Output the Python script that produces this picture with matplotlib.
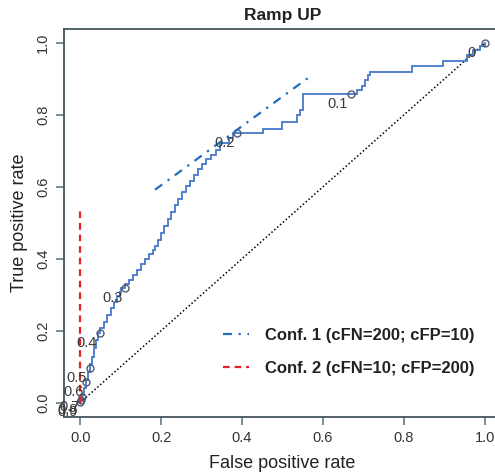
import matplotlib
matplotlib.use("Agg")
import matplotlib.pyplot as plt

plt.rcParams['font.family'] = ['Liberation Sans', 'DejaVu Sans']

# ROC curve vertices (false positive rate, true positive rate)
fpr = [0, 0, 0.005, 0.005, 0.010, 0.010, 0.015, 0.015, 0.020, 0.020, 0.024, 0.024,
       0.029, 0.029, 0.034, 0.034, 0.039, 0.039, 0.044, 0.044, 0.049,
       0.049, 0.059, 0.059, 0.066, 0.066, 0.076, 0.076, 0.083, 0.083, 0.090, 0.090,
       0.098, 0.098, 0.102, 0.102, 0.111,
       0.111, 0.121, 0.121, 0.130, 0.130, 0.140, 0.140, 0.151, 0.151, 0.161, 0.161,
       0.170, 0.170, 0.180, 0.180, 0.185, 0.185, 0.192, 0.192, 0.200, 0.200, 0.208,
       0.208, 0.218, 0.218, 0.225, 0.225, 0.235, 0.235, 0.242, 0.242, 0.252, 0.252,
       0.262, 0.262, 0.271, 0.271, 0.281, 0.281, 0.292, 0.292, 0.302, 0.302, 0.311,
       0.311, 0.324, 0.324, 0.336, 0.336, 0.345, 0.345, 0.367, 0.367, 0.378, 0.378,
       0.388, 0.451, 0.451, 0.499, 0.499, 0.536, 0.536, 0.544, 0.544, 0.551, 0.551,
       0.669, 0.684, 0.684, 0.696, 0.696, 0.704, 0.704, 0.711, 0.711, 0.716, 0.716,
       0.820, 0.820, 0.896, 0.896, 0.956, 0.956, 0.972, 0.972, 0.988, 0.988, 1.0, 1.0]
tpr = [0, 0.008, 0.008, 0.022, 0.022, 0.042, 0.042, 0.064, 0.064, 0.086, 0.086, 0.106,
       0.106, 0.128, 0.128, 0.153, 0.153, 0.175, 0.175, 0.194, 0.194,
       0.208, 0.208, 0.225, 0.225, 0.244, 0.244, 0.264, 0.264, 0.281, 0.281, 0.297,
       0.297, 0.308, 0.308, 0.319, 0.319,
       0.331, 0.331, 0.342, 0.342, 0.356, 0.356, 0.369, 0.369, 0.386, 0.386, 0.400,
       0.400, 0.414, 0.414, 0.425, 0.425, 0.436, 0.436, 0.453, 0.453, 0.472, 0.472,
       0.492, 0.492, 0.511, 0.511, 0.531, 0.531, 0.550, 0.550, 0.567, 0.567, 0.586,
       0.586, 0.603, 0.603, 0.617, 0.617, 0.633, 0.633, 0.650, 0.650, 0.664, 0.664,
       0.678, 0.678, 0.689, 0.689, 0.703, 0.703, 0.722, 0.722, 0.736, 0.736, 0.750,
       0.750, 0.750, 0.761, 0.761, 0.781, 0.781, 0.800, 0.800, 0.814, 0.814, 0.858,
       0.858, 0.858, 0.869, 0.869, 0.881, 0.881, 0.897, 0.897, 0.911, 0.911, 0.919,
       0.919, 0.936, 0.936, 0.950, 0.950, 0.967, 0.967, 0.981, 0.981, 0.992, 0.992, 1.0]

# Printed cutoffs
cutoff_labels = ["0.9", "0.8", "0.7", "0.6", "0.5", "0.4", "0.3", "0.2", "0.1", "0"]
cutoff_fpr = [0.0, 0.002, 0.005, 0.015, 0.024, 0.049, 0.111, 0.388, 0.669, 1.0]
cutoff_tpr = [0.003, 0.008, 0.015, 0.056, 0.097, 0.194, 0.319, 0.750, 0.858, 1.0]

# Cost lines
conf1_x = [0.185, 0.573]
conf1_y = [0.592, 0.911]
conf2_x = [0.0, 0.0]
conf2_y = [0.0, 0.542]

legend_labels = ["Conf. 1 (cFN=200; cFP=10)", "Conf. 2 (cFN=10; cFP=200)"]
ticks = [0.0, 0.2, 0.4, 0.6, 0.8, 1.0]
tick_labels = ["0.0", "0.2", "0.4", "0.6", "0.8", "1.0"]

fig = plt.figure(figsize=(4.95, 4.73), dpi=100)
ax = fig.add_axes([64 / 495, (473 - 417) / 473, (501 - 64) / 495, (417 - 28.6) / 473])

ax.plot([0, 1], [0, 1], color='black', lw=1.1, linestyle=(0, (1, 1.5)))
ax.plot(fpr, tpr, color='#4677cc', lw=1.3, solid_joinstyle='miter')
ax.plot(cutoff_fpr, cutoff_tpr, linestyle='none', marker='o', markersize=5,
        markerfacecolor='none', markeredgecolor='#505a75', markeredgewidth=1.0)
for lab, x, y in zip(cutoff_labels, cutoff_fpr, cutoff_tpr):
    t = ax.annotate(lab, (x, y), xytext=(-13, -10), textcoords='offset pixels',
                    ha='center', va='center', fontsize=10.5, color='#3a3a3a',
                    annotation_clip=False)
    t.set_clip_on(True)

l1, = ax.plot(conf1_x, conf1_y, color='#1f6fc0', lw=1.6,
              linestyle=(0, (4, 3, 1, 3)), label=legend_labels[0])
l2, = ax.plot(conf2_x, conf2_y, color='#e8202a', lw=1.6,
              linestyle=(0, (3, 2.2)), label=legend_labels[1])

ax.set_xlim(-0.04, 1.04)
ax.set_ylim(-0.04, 1.04)
ax.set_xticks(ticks)
ax.set_xticklabels(tick_labels)
ax.set_yticks(ticks)
ax.set_yticklabels(tick_labels)
for lab in ax.get_yticklabels():
    lab.set_rotation(90)
    lab.set_va('center')
    lab.set_ha('right')

spine_c = '#44555c'
for s in ax.spines.values():
    s.set_color(spine_c)
    s.set_linewidth(1.3)
ax.tick_params(axis='both', length=6, width=1.2, color='#607a88',
               labelsize=10.5, labelcolor='#333333')
ax.tick_params(axis='x', pad=4)
ax.tick_params(axis='y', pad=4)

ax.set_title("Ramp UP", fontsize=12.5, fontweight='bold', color='#222222', pad=6)
ax.set_xlabel("False positive rate", fontsize=13, color='#222222', labelpad=7)
ax.set_ylabel("True positive rate", fontsize=13, color='#222222', labelpad=6)

leg = ax.legend(handles=[l1, l2], loc='center left', frameon=False,
                bbox_to_anchor=(223 / 495, 1 - 352 / 473), bbox_transform=fig.transFigure,
                prop={'weight': 'bold', 'size': 12}, handlelength=1.55,
                handletextpad=0.95, labelspacing=1.05, borderpad=0, borderaxespad=0)
for t in leg.get_texts():
    t.set_color('#222222')

fig.savefig("out.png", dpi=100)
